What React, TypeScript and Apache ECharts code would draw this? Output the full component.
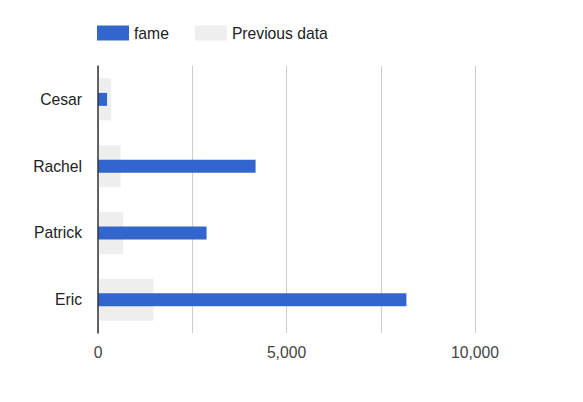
import React, { useEffect, useRef } from "react";
import * as echarts from "echarts";

const categories = ["Eric", "Patrick", "Rachel", "Cesar"];
const fameValues = [8180, 2880, 4180, 240];
const previousValues = [1470, 670, 600, 350];
const xTickLabels = [0, 5000, 10000];

const FONT = "'Liberation Sans', Arial, sans-serif";
const FS = 15.7;

export default function App() {
  const ref = useRef<HTMLDivElement>(null);
  useEffect(() => {
    if (!ref.current) return;
    const chart = echarts.init(ref.current, undefined, { renderer: "svg" });
    chart.setOption({
      animation: false,
      textStyle: { fontFamily: FONT },
      legend: {
        data: ["fame", "Previous data"],
        left: 97,
        top: 25,
        padding: 0,
        itemWidth: 32,
        itemHeight: 15,
        itemGap: 26,
        icon: "rect",
        textStyle: { fontSize: FS, color: "#222", fontFamily: FONT },
      },
      grid: { left: 98, right: 108, top: 66, bottom: 69, containLabel: false },
      xAxis: {
        type: "value",
        min: 0,
        max: 10000,
        interval: 2500,
        axisLine: { show: false },
        axisTick: { show: false },
        splitLine: { lineStyle: { color: "#cccccc", width: 1 } },
        axisLabel: {
          fontSize: FS,
          color: "#444",
          margin: 11,
          fontFamily: FONT,
          formatter: (v: number) =>
            xTickLabels.includes(v) ? v.toLocaleString("en-US") : "",
        },
      },
      yAxis: [
        {
          type: "category",
          data: categories,
          axisLine: { show: true, lineStyle: { color: "#333", width: 1.5 } },
          axisTick: { show: false },
          axisLabel: { fontSize: FS, color: "#222", margin: 16, fontFamily: FONT },
          z: 5,
        },
        {
          type: "category",
          data: categories,
          show: false,
          position: "left",
        },
      ],
      series: [
        {
          name: "Previous data",
          type: "bar",
          yAxisIndex: 1,
          data: previousValues,
          barWidth: 42,
          itemStyle: { color: "#eeeeee" },
          z: 1,
        },
        {
          name: "fame",
          type: "bar",
          yAxisIndex: 0,
          data: fameValues,
          barWidth: 13,
          itemStyle: { color: "#3366cc" },
          z: 3,
        },
      ],
    });
    return () => chart.dispose();
  }, []);
  return (
    <div
      ref={ref}
      style={{ position: "absolute", left: 0, top: 0, width: 583, height: 402 }}
    />
  );
}
